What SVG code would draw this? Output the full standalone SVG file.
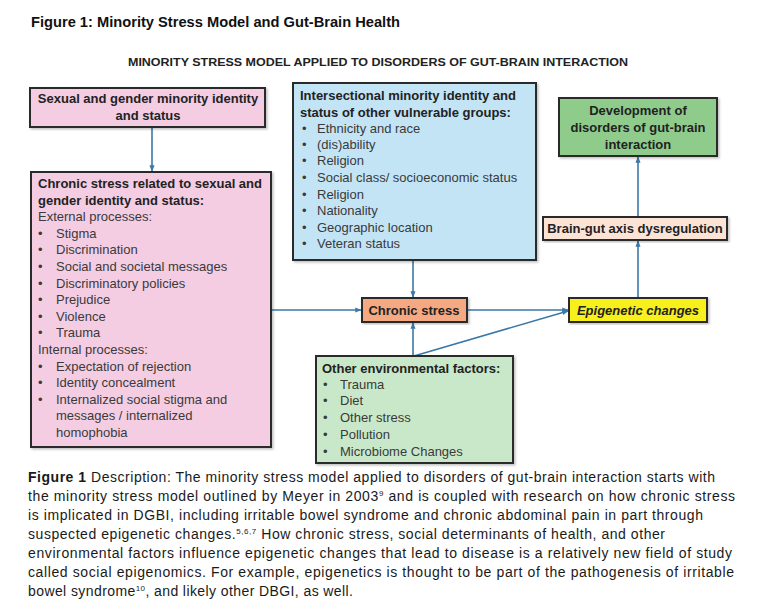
<svg xmlns="http://www.w3.org/2000/svg" width="760" height="616" viewBox="0 0 760 616">
<style>
  text { font-family: "Liberation Sans", Arial, sans-serif; }
  .box { stroke: #2b2b2b; stroke-width: 2; }
  .hdr { font-size: 13px; font-weight: bold; fill: #222; }
  .itm { font-size: 13px; fill: #3a3a3a; }
  .ctr { text-anchor: middle; }
  .conn { stroke: #3c78a6; stroke-width: 1.6; fill: none; }
  .cap { font-size: 14px; fill: #1a1a1a; }
  .sup { font-size: 8px; }
</style>
<defs>
  <marker id="arr" viewBox="0 0 10 10" refX="9" refY="5" markerWidth="4" markerHeight="4" orient="auto">
    <path d="M0,1 L10,5 L0,9 z" fill="#3c78a6"/>
  </marker>
  <filter id="sh" x="-5%" y="-5%" width="110%" height="115%">
    <feDropShadow dx="1.5" dy="1.5" stdDeviation="1" flood-color="#000" flood-opacity="0.25"/>
  </filter>
</defs>
<rect width="760" height="616" fill="#ffffff"/>

<text x="31" y="27" font-size="15" font-weight="bold" fill="#111" textLength="369" lengthAdjust="spacingAndGlyphs">Figure 1: Minority Stress Model and Gut-Brain Health</text>
<text x="378" y="66" font-size="11.5" font-weight="bold" fill="#222" text-anchor="middle" textLength="500" lengthAdjust="spacingAndGlyphs">MINORITY STRESS MODEL APPLIED TO DISORDERS OF GUT-BRAIN INTERACTION</text>

<g id="connectors">
  <line class="conn" x1="152" y1="128" x2="152" y2="171" marker-end="url(#arr)"/>
  <line class="conn" x1="272" y1="310" x2="361" y2="310" marker-end="url(#arr)"/>
  <line class="conn" x1="413" y1="260" x2="413" y2="297" marker-end="url(#arr)"/>
  <line class="conn" x1="413" y1="356" x2="413" y2="323" marker-end="url(#arr)"/>
  <line class="conn" x1="467" y1="310" x2="568" y2="310" marker-end="url(#arr)"/>
  <line class="conn" x1="414" y1="356" x2="568" y2="311" marker-end="url(#arr)"/>
  <line class="conn" x1="638" y1="298" x2="638" y2="241" marker-end="url(#arr)"/>
  <line class="conn" x1="638" y1="217" x2="638" y2="157" marker-end="url(#arr)"/>
</g>

<g id="sgm-identity">
  <rect class="box" x="30" y="88" width="235" height="39" fill="#f4cde2" filter="url(#sh)"/>
  <text class="hdr ctr" x="148" y="103">Sexual and gender minority identity</text>
  <text class="hdr ctr" x="148" y="120">and status</text>
</g>

<g id="chronic-stress-sgm">
  <rect class="box" x="31" y="172" width="240" height="275" fill="#f4cde2" filter="url(#sh)"/>
  <text class="hdr" x="38" y="188">Chronic stress related to sexual and</text>
  <text class="hdr" x="38" y="205">gender identity and status:</text>
  <text class="itm" x="38" y="221">External processes:</text>
  <g class="itm">
    <text x="38" y="238">•</text><text x="56" y="238">Stigma</text>
    <text x="38" y="254">•</text><text x="56" y="254">Discrimination</text>
    <text x="38" y="271">•</text><text x="56" y="271">Social and societal messages</text>
    <text x="38" y="288">•</text><text x="56" y="288">Discriminatory policies</text>
    <text x="38" y="304">•</text><text x="56" y="304">Prejudice</text>
    <text x="38" y="321">•</text><text x="56" y="321">Violence</text>
    <text x="38" y="337">•</text><text x="56" y="337">Trauma</text>
  </g>
  <text class="itm" x="38" y="354">Internal processes:</text>
  <g class="itm">
    <text x="38" y="371">•</text><text x="56" y="371">Expectation of rejection</text>
    <text x="38" y="387">•</text><text x="56" y="387">Identity concealment</text>
    <text x="38" y="404">•</text><text x="56" y="404">Internalized social stigma and</text>
    <text x="56" y="420">messages / internalized</text>
    <text x="56" y="437">homophobia</text>
  </g>
</g>

<g id="intersectional">
  <rect class="box" x="293" y="83" width="243" height="177" fill="#c3e4f5" filter="url(#sh)"/>
  <text class="hdr" x="300" y="100">Intersectional minority identity and</text>
  <text class="hdr" x="300" y="117">status of other vulnerable groups:</text>
  <g class="itm">
    <text x="302" y="133">•</text><text x="317" y="133">Ethnicity and race</text>
    <text x="302" y="149">•</text><text x="317" y="149">(dis)ability</text>
    <text x="302" y="165">•</text><text x="317" y="165">Religion</text>
    <text x="302" y="182">•</text><text x="317" y="182">Social class/ socioeconomic status</text>
    <text x="302" y="199">•</text><text x="317" y="199">Religion</text>
    <text x="302" y="215">•</text><text x="317" y="215">Nationality</text>
    <text x="302" y="232">•</text><text x="317" y="232">Geographic location</text>
    <text x="302" y="248">•</text><text x="317" y="248">Veteran status</text>
  </g>
</g>

<g id="chronic-stress">
  <rect class="box" x="362" y="298" width="105" height="24" fill="#f5a983" filter="url(#sh)"/>
  <text class="hdr ctr" x="414" y="315">Chronic stress</text>
</g>

<g id="environmental">
  <rect class="box" x="316" y="356" width="197" height="107" fill="#c9e8c9" filter="url(#sh)"/>
  <text class="hdr" x="322" y="373">Other environmental factors:</text>
  <g class="itm">
    <text x="323" y="389">•</text><text x="340" y="389">Trauma</text>
    <text x="323" y="405">•</text><text x="340" y="405">Diet</text>
    <text x="323" y="422">•</text><text x="340" y="422">Other stress</text>
    <text x="323" y="439">•</text><text x="340" y="439">Pollution</text>
    <text x="323" y="456">•</text><text x="340" y="456">Microbiome Changes</text>
  </g>
</g>

<g id="epigenetic">
  <rect class="box" x="569" y="298" width="138" height="24" fill="#f7f01c" filter="url(#sh)"/>
  <text class="hdr ctr" x="638" y="315" font-style="italic">Epigenetic changes</text>
</g>

<g id="brain-gut">
  <rect class="box" x="543" y="217" width="184" height="23" fill="#fbe3d6" filter="url(#sh)"/>
  <text class="hdr ctr" x="635" y="233">Brain-gut axis dysregulation</text>
</g>

<g id="dgbi">
  <rect class="box" x="559" y="98" width="158" height="58" fill="#8fcc8c" filter="url(#sh)"/>
  <text class="hdr ctr" x="638" y="115">Development of</text>
  <text class="hdr ctr" x="638" y="132">disorders of gut-brain</text>
  <text class="hdr ctr" x="638" y="149">interaction</text>
</g>

<g id="caption">
  <text class="cap" x="28" y="482" textLength="687" lengthAdjust="spacing"><tspan font-weight="bold">Figure 1</tspan> Description: The minority stress model applied to disorders of gut-brain interaction starts with</text>
  <text class="cap" x="28" y="501" textLength="707" lengthAdjust="spacing">the minority stress model outlined by Meyer in 2003<tspan class="sup" dy="-5">9</tspan><tspan dy="5"> and is coupled with research on how chronic stress</tspan></text>
  <text class="cap" x="28" y="520" textLength="675" lengthAdjust="spacing">is implicated in DGBI, including irritable bowel syndrome and chronic abdominal pain in part through</text>
  <text class="cap" x="28" y="539" textLength="637" lengthAdjust="spacing">suspected epigenetic changes.<tspan class="sup" dy="-5">5,6,7</tspan><tspan dy="5"> How chronic stress, social determinants of health, and other</tspan></text>
  <text class="cap" x="28" y="558" textLength="704" lengthAdjust="spacing">environmental factors influence epigenetic changes that lead  to disease is a relatively new field of study</text>
  <text class="cap" x="28" y="577" textLength="706" lengthAdjust="spacing">called social epigenomics. For example, epigenetics  is thought to be part of the pathogenesis of irritable</text>
  <text class="cap" x="28" y="596" textLength="325" lengthAdjust="spacing">bowel syndrome<tspan class="sup" dy="-5">10</tspan><tspan dy="5">, and likely other DBGI, as well.</tspan></text>
</g>
</svg>
